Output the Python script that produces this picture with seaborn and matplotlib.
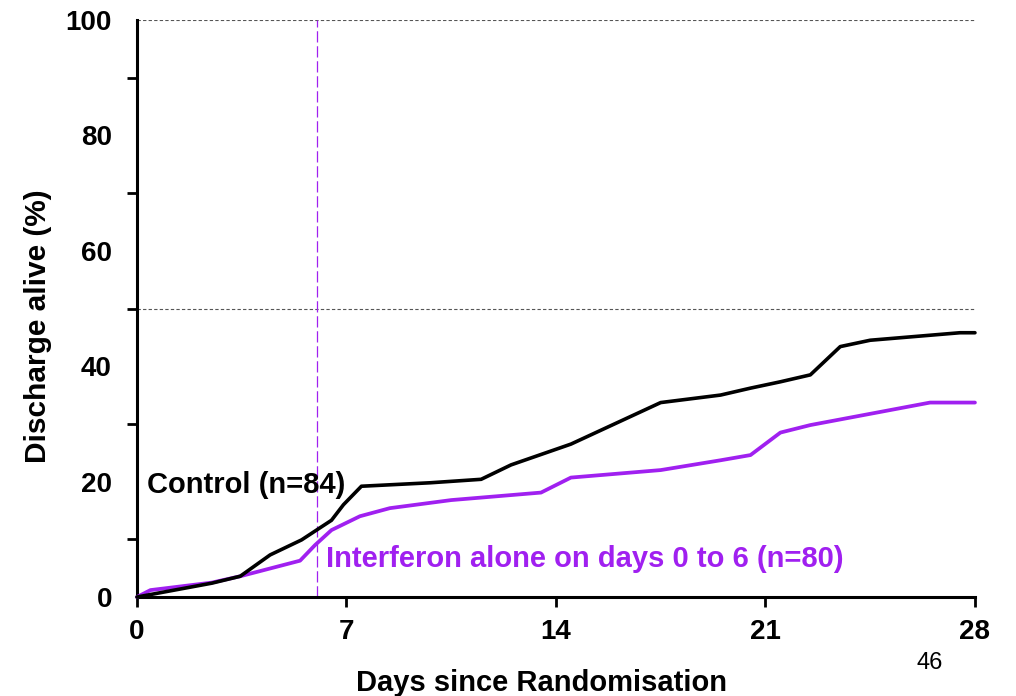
import numpy as np
import pandas as pd
import matplotlib
matplotlib.use('Agg')
import matplotlib.pyplot as plt
from matplotlib.ticker import MultipleLocator
import seaborn as sns

# values
control_days = [0, 2.5, 3.45, 4.45, 5.5, 6.5, 6.9, 7.5, 9.8, 11.5, 12.5, 14.5, 17.5, 19.5, 20.5, 21.5, 22.5, 23.5, 24.5, 27.5, 28]
control_pct = [0, 2.4, 3.6, 7.3, 9.9, 13.3, 16.0, 19.2, 19.8, 20.4, 22.9, 26.5, 33.7, 35.0, 36.2, 37.3, 38.5, 43.4, 44.5, 45.8, 45.8]

ifn_days = [0, 0.45, 2.5, 3.45, 5.45, 5.95, 6.5, 7.45, 8.45, 10.5, 13.5, 14.5, 17.5, 19.5, 20.5, 21.5, 22.5, 26.5, 28]
ifn_pct = [0, 1.2, 2.5, 3.6, 6.3, 9.0, 11.6, 14.0, 15.4, 16.8, 18.1, 20.7, 22.0, 23.7, 24.6, 28.5, 29.8, 33.7, 33.7]

x_ticks = [0, 7, 14, 21, 28]
y_labels = [0, 20, 40, 60, 80, 100]
ref_lines = [50, 100]
treat_end_day = 6

purple = '#A020F0'

sns.set_theme(style='white')
plt.rcParams['font.family'] = ['Liberation Sans', 'DejaVu Sans']
plt.rcParams['text.color'] = 'black'
plt.rcParams['axes.labelcolor'] = 'black'
plt.rcParams['xtick.color'] = 'black'
plt.rcParams['ytick.color'] = 'black'

fig = plt.figure(figsize=(10.16, 6.96), dpi=100)
ax = fig.add_axes([0.1348, 0.1422, 0.8248, 0.8291])

ctrl = pd.DataFrame({'day': control_days, 'pct': control_pct})
ifn = pd.DataFrame({'day': ifn_days, 'pct': ifn_pct})

for y in ref_lines:
    ax.axhline(y, color='#555555', lw=0.8, ls=(0, (3, 2)), zorder=1)
ax.axvline(treat_end_day, color=purple, lw=0.9, ls=(0, (9, 3)), zorder=1)

sns.lineplot(data=ifn, x='day', y='pct', color=purple, lw=2.7, ax=ax, clip_on=False, zorder=3)
sns.lineplot(data=ctrl, x='day', y='pct', color='black', lw=2.6, ax=ax, clip_on=False, zorder=4)

ax.set_xlim(0, 28)
ax.set_ylim(0, 100)
ax.set_xticks(x_ticks)
ax.set_yticks(y_labels)
ax.yaxis.set_minor_locator(MultipleLocator(10))

for s in ['top', 'right']:
    ax.spines[s].set_visible(False)
for s in ['left', 'bottom']:
    ax.spines[s].set_linewidth(2.2)
    ax.spines[s].set_color('black')

ax.tick_params(axis='both', which='both', direction='out', length=7, width=2,
               colors='black', labelsize=20)
ax.tick_params(axis='y', which='major', pad=11)
ax.tick_params(axis='y', which='minor', length=7, width=2, left=True)
ax.tick_params(axis='x', bottom=True, pad=9)
for lab in ax.get_xticklabels() + ax.get_yticklabels():
    lab.set_fontweight('bold')

ax.set_xlabel('Days since Randomisation', fontsize=21, fontweight='bold')
ax.xaxis.set_label_coords(0.483, -0.125)
ax.set_ylabel('Discharge alive (%)', fontsize=21.5, fontweight='bold')
ax.yaxis.set_label_coords(-0.101, 0.47)

ax.text(0.35, 19.5, 'Control (n=84)', fontsize=21, fontweight='bold', color='black',
        va='center', ha='left')
ax.text(6.3, 6.6, 'Interferon alone on days 0 to 6 (n=80)', fontsize=21, fontweight='bold',
        color=purple, va='center', ha='left')

fig.text(930 / 1016, 1 - 663 / 696, '46', fontsize=17, ha='center', va='center')

fig.savefig('out.png', dpi=100)
